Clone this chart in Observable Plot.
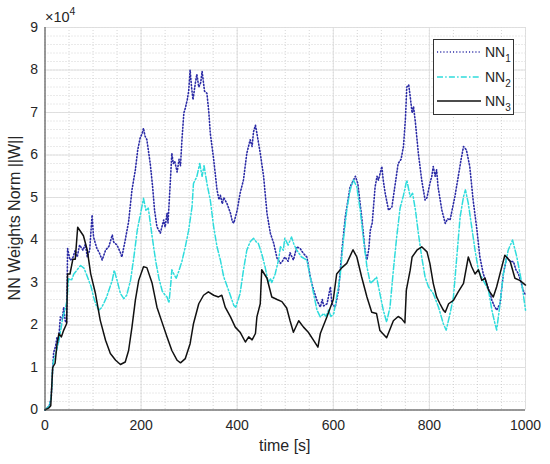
<!DOCTYPE html>
<html>
<head>
<meta charset="utf-8">
<script src="https://cdn.jsdelivr.net/npm/d3@7"></script>
<script src="https://cdn.jsdelivr.net/npm/@observablehq/plot@0.6"></script>
<style>
  html, body { margin: 0; padding: 0; background: #fff; }
  #chart { width: 550px; height: 464px; }
</style>
</head>
<body>
<div id="chart"></div>
<script>
// ---- Data (values in units of 1e4) ----
const seriesNames = ["NN1", "NN2", "NN3"];
const xTicks = [0, 200, 400, 600, 800, 1000];
const yTicks = [0, 1, 2, 3, 4, 5, 6, 7, 8, 9];
const xMinor = d3.range(0, 1001, 50);
const yMinor = d3.range(0, 9.001, 0.2);

const nn1T = [0,9,13,16,18,22,25,28,32,36,39,42,45,47,52,57,63,67,72,79,84,88,93,98,101,108,113,119,126,133,140,143,150,157,160,167,174,181,188,193,198,202,205,208,212,219,224,228,233,240,247,250,254,256,261,264,267,270,275,279,282,285,289,292,296,299,302,305,308,313,316,320,324,327,332,337,341,344,351,358,362,365,369,372,379,386,390,393,400,406,413,420,427,431,434,438,441,448,455,462,469,476,483,490,494,499,506,510,517,524,531,538,545,552,559,566,573,577,580,587,594,597,604,611,618,625,635,642,646,651,659,666,670,674,677,681,687,691,694,701,704,708,715,722,729,735,741,746,750,753,757,760,764,767,771,777,784,791,795,801,805,808,812,815,818,826,833,838,843,853,860,866,871,877,884,891,899,905,912,919,925,930,935,940,947,954,961,968,975,980,985,991,995,1000];
const nn1V = [0,0.1,0.3,1.0,1.35,1.5,1.72,1.6,2.19,2.14,2.42,2.1,2.05,3.8,3.53,3.55,3.76,3.6,3.88,3.76,3.9,3.6,3.76,4.59,4.07,3.8,3.7,3.53,3.76,3.85,4.12,3.95,3.88,3.7,3.6,4.0,4.43,5.18,5.65,6.12,6.4,6.5,6.63,6.45,6.36,5.8,5.25,4.7,4.31,4.16,4.47,4.3,4.63,4.4,5.41,6.04,5.8,5.85,5.6,5.9,5.75,6.36,6.99,7.1,7.3,7.5,8.0,7.6,7.3,7.7,7.9,7.6,7.7,7.97,7.5,7.45,7.0,6.51,5.9,5.18,4.95,5.05,4.85,5.0,4.85,4.63,4.43,4.4,4.7,5.1,5.41,6.04,6.36,6.2,6.55,6.7,6.51,6.04,5.49,4.63,4.16,3.92,3.57,3.45,3.5,3.6,3.5,3.7,3.53,3.84,3.8,3.68,3.6,3.13,2.82,2.58,2.42,2.6,2.45,2.5,2.9,2.5,2.42,2.82,3.76,4.55,5.25,5.41,5.5,5.33,4.55,3.76,3.53,3.8,4.23,4.4,5.25,5.5,5.41,5.73,5.4,5.1,4.7,4.78,5.33,5.8,5.9,6.2,6.83,7.6,7.65,7.38,6.99,7.14,6.75,6.04,5.41,4.94,5.0,5.33,5.5,5.73,5.5,5.65,5.25,4.7,4.39,4.5,4.47,5.02,5.49,5.9,6.2,6.12,5.73,4.94,4.23,3.6,3.21,2.98,2.8,2.58,2.45,2.35,2.5,3.21,3.6,3.5,3.49,3.3,3.21,3.0,2.82,2.7];

const nn2T = [0,9,13,16,18,24,29,33,36,40,43,46,49,55,60,67,74,81,86,91,96,101,107,112,117,122,128,133,140,144,150,157,164,170,178,185,192,199,205,210,215,223,230,237,244,250,254,258,262,264,268,273,278,285,292,299,306,309,316,322,327,331,337,344,351,358,365,372,382,393,397,406,413,420,427,434,440,444,451,458,465,469,472,479,486,490,496,499,506,513,518,524,534,545,552,559,566,573,580,585,590,595,601,607,614,621,628,635,642,649,656,663,670,677,684,690,697,704,711,718,725,732,739,746,753,760,765,771,777,784,791,798,808,819,829,835,843,850,857,864,871,875,881,888,895,902,912,923,930,935,940,947,954,964,973,982,992,1000];
const nn2V = [0,0.1,0.3,1.0,1.17,1.4,1.64,1.9,2.11,2.3,2.42,2.6,3.09,3.05,3.2,3.3,3.4,3.34,3.2,3.05,2.9,2.66,2.45,2.35,2.4,2.5,2.65,2.82,3.05,3.29,3.05,2.74,2.62,2.7,3.05,3.6,4.23,4.63,4.98,4.7,4.75,4.08,3.53,3.1,2.8,2.7,2.66,2.52,3.0,3.3,3.2,3.1,3.25,3.5,3.84,4.23,4.78,5.33,5.49,5.8,5.5,5.75,5.33,4.94,4.31,3.84,3.53,3.13,2.82,2.46,2.42,2.74,3.29,3.76,3.96,4.04,3.95,3.92,3.68,3.37,2.98,3.1,3.0,3.2,3.53,3.84,3.76,4.04,3.88,4.07,3.9,3.76,3.6,3.53,3.13,2.74,2.35,2.19,2.27,2.2,2.35,2.2,2.27,2.66,3.13,4.0,4.7,5.18,5.41,5.25,4.7,4.0,3.37,2.98,3.05,3.13,2.74,2.35,2.07,2.42,3.29,4.08,4.75,5.05,5.41,5.02,5.1,4.7,4.16,3.6,3.13,2.9,2.74,2.42,2.03,1.88,2.27,2.66,3.6,4.55,5.02,5.18,4.86,4.31,3.76,3.29,3.05,2.82,2.35,2.1,1.88,2.5,3.21,3.76,4.0,3.6,3.0,2.35];

const nn3T = [0,8,12,16,21,25,29,34,39,45,47,52,58,63,68,74,80,88,95,105,115,126,136,147,157,167,174,181,188,195,205,212,223,233,244,254,264,275,282,292,302,309,320,330,340,351,361,368,375,386,396,406,417,424,431,438,441,448,451,462,472,483,493,503,510,517,528,538,548,559,568,573,587,600,607,618,628,641,649,659,670,680,690,697,711,725,735,742,749,752,760,764,774,784,795,801,808,815,822,829,833,840,850,860,871,881,888,895,902,909,916,923,933,940,947,957,968,978,988,1000];
const nn3V = [0,0.05,0.1,1.0,1.1,1.55,1.8,1.72,1.88,2.03,3.2,3.2,3.55,3.55,4.3,4.2,4.1,3.76,3.21,2.74,2.11,1.64,1.33,1.17,1.07,1.13,1.4,1.95,2.58,3.05,3.37,3.35,2.98,2.42,2.05,1.72,1.4,1.17,1.11,1.21,1.56,2.03,2.5,2.7,2.78,2.7,2.66,2.7,2.42,2.19,1.95,1.83,1.6,1.72,1.65,1.8,2.19,2.5,3.3,3.1,2.66,2.6,2.55,2.4,2.1,1.83,2.1,1.95,1.83,1.64,1.48,1.8,2.2,2.6,3.2,3.35,3.45,3.77,3.6,3.13,2.66,2.3,2.27,1.87,1.7,2.1,2.2,2.15,2.05,2.82,3.29,3.6,3.76,3.84,3.72,3.45,2.98,2.66,2.5,2.35,2.3,2.5,2.58,2.78,2.98,3.6,3.37,3.2,3.3,3.05,3.1,2.82,2.66,2.9,3.21,3.64,3.5,3.1,3.05,2.94];

const rows = [];
[[nn1T, nn1V], [nn2T, nn2V], [nn3T, nn3V]].forEach(([T, V], i) => {
  T.forEach((t, j) => rows.push({ series: seriesNames[i], t, v: V[j] }));
});

const colors = { NN1: "#2b2ba6", NN2: "#2fdcdc", NN3: "#111111" };
const dashes = { NN1: "1.1,2.1", NN2: "6,2.2,1.5,2.2", NN3: null };
const widths = { NN1: 1.6, NN2: 1.5, NN3: 1.5 };

const lineMarks = seriesNames.map(s =>
  Plot.line(rows.filter(d => d.series === s), {
    x: "t", y: "v", stroke: colors[s], strokeWidth: widths[s],
    strokeDasharray: dashes[s] || undefined, curve: "linear"
  })
);

const chart = Plot.plot({
  width: 550,
  height: 464,
  marginLeft: 44.5,
  marginRight: 25,
  marginTop: 27,
  marginBottom: 54.5,
  style: { fontFamily: "'Liberation Sans', Arial, sans-serif", fontSize: "14px", color: "#262626", background: "#fff" },
  x: { domain: [0, 1000] },
  y: { domain: [0, 9] },
  marks: [
    Plot.ruleX(xMinor, { stroke: "#c4c4c4", strokeWidth: 0.7, strokeDasharray: "1,2" }),
    Plot.ruleY(yMinor, { stroke: "#c4c4c4", strokeWidth: 0.7, strokeDasharray: "1,2" }),
    Plot.ruleX(xTicks, { stroke: "#dcdcdc", strokeWidth: 0.9 }),
    Plot.ruleY(yTicks, { stroke: "#dcdcdc", strokeWidth: 0.9 }),
    Plot.axisX({ ticks: xTicks, tickSize: 0, tickPadding: 10, label: null, fontSize: 14, tickFormat: d => String(d) }),
    Plot.axisY({ ticks: yTicks, tickSize: 0, tickPadding: 7, label: null, fontSize: 14, tickFormat: d => String(d) }),
    ...lineMarks,
    Plot.ruleX([0], { stroke: "#444", strokeWidth: 1 }),
    Plot.ruleY([0], { stroke: "#444", strokeWidth: 1 })
  ]
});

document.getElementById("chart").appendChild(chart);

// ---- Annotations: axis labels, exponent, legend ----
const svg = d3.select(chart);
const font = "'Liberation Sans', Arial, sans-serif";

svg.append("text")
  .attr("x", 284.75).attr("y", 451)
  .attr("text-anchor", "middle")
  .attr("font-family", font).attr("font-size", 16).attr("fill", "#262626")
  .text("time [s]");

svg.append("text")
  .attr("transform", "translate(20,218) rotate(-90)")
  .attr("text-anchor", "middle")
  .attr("font-family", font).attr("font-size", 16).attr("fill", "#262626")
  .text("NN Weights Norm ||W||");

const ex = svg.append("text")
  .attr("x", 45).attr("y", 22)
  .attr("text-anchor", "start")
  .attr("font-family", font).attr("font-size", 14.5).attr("fill", "#262626");
ex.append("tspan").text("×10");
ex.append("tspan").attr("font-size", 10.5).attr("dy", -7).text("4");

const lg = svg.append("g");
lg.append("rect")
  .attr("x", 433.5).attr("y", 39.5).attr("width", 80).attr("height", 75)
  .attr("fill", "#fff").attr("stroke", "#333").attr("stroke-width", 1);
const rowY = [52, 77, 101];
seriesNames.forEach((s, i) => {
  lg.append("line")
    .attr("x1", 437).attr("x2", 481).attr("y1", rowY[i]).attr("y2", rowY[i])
    .attr("stroke", colors[s]).attr("stroke-width", widths[s])
    .attr("stroke-dasharray", dashes[s] || null);
  const t = lg.append("text")
    .attr("x", 485).attr("y", rowY[i] + 5)
    .attr("text-anchor", "start")
    .attr("font-family", font).attr("font-size", 14).attr("fill", "#262626");
  t.append("tspan").text("NN");
  t.append("tspan").attr("font-size", 10).attr("dy", 5).text(String(i + 1));
});
</script>
</body>
</html>
